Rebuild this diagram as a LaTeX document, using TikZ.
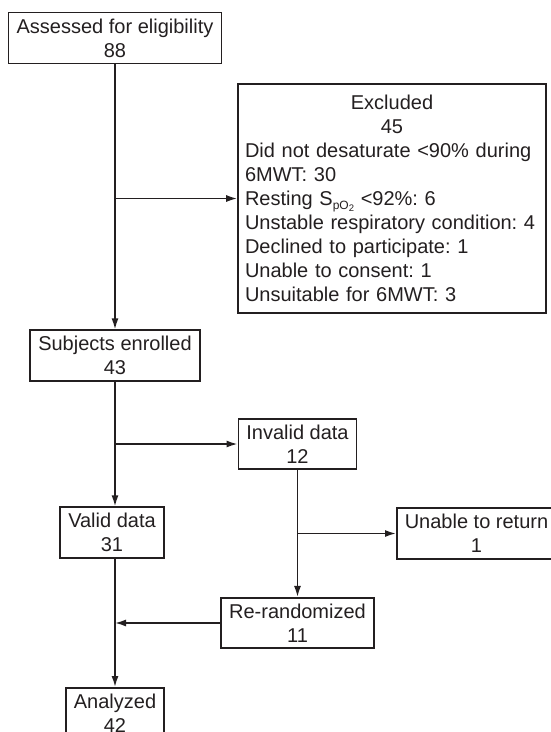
\documentclass[tikz,border=0pt]{standalone}
\usepackage{fontspec}
\setmainfont{Liberation Sans}
\usepackage{tikz}
\usetikzlibrary{arrows.meta}
\definecolor{ink}{HTML}{231F20}
\setlength{\parindent}{0pt}
\frenchspacing
\newcommand{\satpo}{S\raisebox{-0.35ex}{\fontsize{12}{12}\selectfont pO\raisebox{-0.35ex}{\fontsize{9.5}{9.5}\selectfont 2}}}

\begin{document}
\begin{tikzpicture}[>={Latex[length=11pt,width=7pt]}, x=1pt, y=-1pt, line width=1.6pt, color=ink,
    box/.style={draw, rectangle, align=center, inner xsep=8pt, inner ysep=6pt, font=\fontsize{20}{24}\selectfont}]

    \useasboundingbox (0,0) rectangle (550,732);

    \node[box]                (assess)   at (115,38)    {Assessed for eligibility\\88};
    \node[box, text width=300pt, align=left, inner xsep=4pt, minimum height=229pt]
                              (excl)     at (392,198.5) {{\centering Excluded\\45\par}
                                                         \hspace*{3pt}Did not desaturate <90\% during\\
                                                         \hspace*{3pt}6MWT: 30\\
                                                         \hspace*{3pt}Resting \satpo{} <92\%: 6\\
                                                         \hspace*{3pt}Unstable respiratory condition: 4\\
                                                         \hspace*{3pt}Declined to participate: 1\\
                                                         \hspace*{3pt}Unable to consent: 1\\
                                                         \hspace*{3pt}Unsuitable for 6MWT: 3};
    \node[box]                (enrol)    at (115,355.5) {Subjects enrolled\\43};
    \node[box]                (invalid)  at (297.5,444) {Invalid data\\12};
    \node[box]                (valid)    at (112,532.5) {Valid data\\31};
    \node[box, anchor=west]   (unable)   at (396,533.5) {Unable to return\\1};
    \node[box]                (rerand)   at (297.5,623) {Re-randomized\\11};
    \node[box, anchor=north]  (analyzed) at (115,687)   {Analyzed\\42};

    \coordinate (split1) at (assess.south |- excl.west);
    \coordinate (split2) at (enrol.south |- invalid.west);
    \coordinate (split3) at (invalid.south |- unable.west);
    \coordinate (split4) at (assess.south |- rerand.west);

    \path[->]   (assess)   edge    (enrol)
                (split1)   edge    (excl)
                (split2)   edge    (invalid)
                (invalid)  edge    (rerand)
                (split3)   edge    (unable)
                (rerand)   edge    (split4);
    \draw[->]   (enrol.south)   -- (enrol.south |- valid.north);
    \draw[->]   (valid.south -| enrol.south) -- (analyzed.north);

\end{tikzpicture}
\end{document}
